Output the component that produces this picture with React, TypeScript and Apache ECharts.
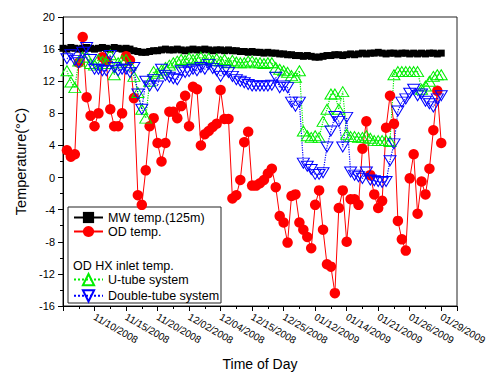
import React, { useEffect, useRef } from "react";
import * as echarts from "echarts";

const FONT = "'Liberation Sans', Arial, sans-serif";

// x tick labels at sample index 0, 8, 16, ... 96
const xTickLabels = [
  "",
  "11/10/2008",
  "11/15/2008",
  "11/20/2008",
  "12/02/2008",
  "12/04/2008",
  "12/15/2008",
  "12/25/2008",
  "01/12/2009",
  "01/14/2009",
  "01/21/2009",
  "01/26/2009",
  "01/29/2009",
];

// MW temp.(125m), samples 0..97
const mwTemp = [
  16.1, 16.0, 16.2, 16.1, 16.0, 16.1, 16.2, 16.1, 16.0, 16.1, 16.2, 16.1, 16.0, 16.2, 16.1, 16.0, 16.1, 16.0,
  15.8, 15.7, 15.6, 15.6, 15.7, 15.8, 15.8, 15.9, 16.0, 15.9, 15.9, 16.0, 15.9, 15.8, 15.9, 16.0, 15.9, 15.9,
  16.0, 15.9, 15.8, 15.9, 15.9, 15.8, 15.9, 15.8, 15.8, 15.7,
  15.7, 15.6, 15.7, 15.6, 15.6, 15.5, 15.6, 15.5, 15.5, 15.4, 15.4, 15.3, 15.3,
  15.2, 15.2, 15.1, 15.2, 15.1, 15.0, 15.0, 15.1, 15.2, 15.2, 15.3, 15.3, 15.2, 15.3, 15.4, 15.3,
  15.4, 15.5, 15.4, 15.5, 15.5, 15.6, 15.5, 15.4, 15.5, 15.5, 15.4, 15.5, 15.5, 15.4, 15.5, 15.4, 15.5, 15.4,
  15.5, 15.5, 15.4, 15.5,
];

// OD temp., samples 1..96
const odTemp = [
  3.4, 2.6, 2.9, 14.3, 17.5, 10.0, 7.7, 6.4, 8.0, 15.0,
  14.5, 8.5, 6.4, 6.4, 8.0, 15.1, 14.6, 9.9, -2.2, -3.4,
  0.9, 6.4, 7.4, 4.3, 2.0, 4.3, 8.2, 8.2, 7.4, 8.9,
  10.2, 6.4, 11.3, 11.0, 4.0, 5.4, 5.8, 6.3, 6.7, 10.9,
  7.3, 7.3, -2.6, -2.2, -0.3, 4.4, 5.7, -1.0, -1.0, -0.7,
  -0.3, 0.5, 1.1, -1.2, -4.8, -5.6, -8.1, -2.3, -2.1, -5.6,
  -6.5, -7.4, -8.8, -3.4, -1.6, -6.5, -10.8, -11.1, -14.4, -3.8,
  -1.6, -8.0, -2.7, -2.7, -3.4, 3.6, 7.0, 0.3, -2.1, -3.8,
  -2.9, 6.2, 10.2, 6.7, -5.4, -7.7, -9.1, -0.1, 2.9, -4.5,
  -0.5, -2.1, 1.1, 5.9, 10.8, 4.3,
];

// OD HX inlet temp. - U-tube system, samples 1..96
const uTube = [
  13.3, 11.9, 11.2, 14.5, 15.0, 15.0, 14.2, 14.0, 14.7, 14.5,
  14.2, 15.3, 12.8, 14.3, 14.6, 14.7, 14.0, 12.6, 10.6, 8.5,
  7.4, 12.0, 13.2, 13.0, 13.4, 13.7, 14.0, 14.3, 14.5, 14.7,
  14.6, 14.9, 14.7, 14.8, 15.0, 14.7, 14.9, 14.6, 14.8, 14.5,
  14.7, 14.3, 14.6, 14.4, 14.3, 14.3, 14.5, 14.5, 14.3, 14.3,
  14.2, 14.3, 14.3, 13.7, 13.5, 13.3, 13.1, 12.7, 12.5, 13.3,
  5.8, 5.2, 5.0, 5.2, 5.0, 7.0, 8.5, 10.4, 10.4, 8.5,
  10.7, 5.4, 5.1, 5.1, 5.0, 5.0, 5.2, 4.9, 4.6, 4.6,
  4.6, 4.6, 4.5, 12.8, 13.2, 13.2, 13.2, 13.2, 13.2, 13.2,
  11.0, 11.4, 12.0, 12.6, 12.8, 12.8,
];

// OD HX inlet temp. - Double-tube system, samples 1..96
const doubleTube = [
  14.8, 15.3, 14.6, 14.3, 15.6, 16.2, 14.7, 13.5, 13.5, 13.3,
  13.3, 15.2, 13.7, 13.3, 13.5, 13.5, 13.1, 13.7, 10.4, 8.5,
  12.0, 11.4, 12.2, 11.4, 13.5, 12.7, 12.5, 12.3, 12.2, 13.3,
  13.1, 13.2, 13.5, 13.3, 13.7, 13.5, 14.1, 13.6, 13.3, 12.6,
  13.3, 13.1, 12.6, 12.2, 12.0, 11.8, 11.6, 11.4, 11.4, 11.4,
  11.4, 11.4, 11.5, 12.5, 11.2, 11.4, 11.2, 9.4, 8.9, 9.4,
  1.8, 1.4, 1.0, 0.4, 0.4, 0.6, 3.8, 5.8, 7.6, 7.0,
  3.8, 7.5, 0.7, 0.3, 0.1, -0.1, 0.7, -0.3, -0.4, -0.5,
  -0.6, -0.5, 2.1, 4.2, 8.3, 9.4, 9.8, 10.5, 11.0, 10.2,
  10.4, 9.5, 9.2, 8.8, 9.8, 10.2,
];

const toPoints = (arr: number[], start: number) => arr.map((v, k) => [k + start, v]);

const DOWN_TRI = "path://M0,0 L12,0 L6,10 Z";

export default function App() {
  const ref = useRef<HTMLDivElement>(null);

  useEffect(() => {
    if (!ref.current) return;
    const chart = echarts.init(ref.current, undefined, { renderer: "svg" });
    const textStyle = { fontFamily: FONT, color: "#000" };
    chart.setOption({
      animation: false,
      backgroundColor: "#fff",
      textStyle,
      grid: {
        left: 63,
        top: 17,
        right: 34,
        bottom: 67,
        show: true,
        borderColor: "#222",
        borderWidth: 1,
        backgroundColor: "transparent",
      },
      xAxis: {
        type: "value",
        min: 0,
        max: 100,
        interval: 8,
        name: "Time of Day",
        nameLocation: "middle",
        nameGap: 51,
        nameTextStyle: { fontSize: 14, fontFamily: FONT, color: "#000" },
        axisLine: { show: true, onZero: false, lineStyle: { color: "#000", width: 1 } },
        axisTick: { show: true, length: 5, lineStyle: { color: "#000" } },
        minorTick: { show: true, splitNumber: 2, length: 3, lineStyle: { color: "#000" } },
        splitLine: { show: false },
        axisLabel: {
          rotate: -30,
          margin: 10,
          fontSize: 10,
          fontFamily: FONT,
          color: "#000",
          formatter: (v: number) => {
            const k = v / 8;
            return Number.isInteger(k) && k < xTickLabels.length ? xTickLabels[k] : "";
          },
        },
      },
      yAxis: {
        type: "value",
        min: -16,
        max: 20,
        interval: 4,
        name: "Temperature(\u00B0C)",
        nameLocation: "middle",
        nameGap: 33,
        nameTextStyle: { fontSize: 14.5, fontFamily: FONT, color: "#000" },
        axisLine: { show: true, onZero: false, lineStyle: { color: "#000", width: 1 } },
        axisTick: { show: true, length: 5, lineStyle: { color: "#000" } },
        minorTick: { show: true, splitNumber: 2, length: 3, lineStyle: { color: "#000" } },
        splitLine: { show: false },
        axisLabel: { fontSize: 11, margin: 8, fontFamily: FONT, color: "#000" },
      },
      legend: [
        {
          data: ["MW temp.(125m)", "OD temp."],
          orient: "vertical",
          left: 73,
          top: 211,
          padding: 0,
          itemWidth: 29,
          itemHeight: 14,
          itemGap: 1,
          z: 6,
          textStyle: { fontSize: 12.5, fontFamily: FONT, color: "#000" },
        },
        {
          data: ["U-tube system", "Double-tube system"],
          orient: "vertical",
          left: 73,
          top: 273,
          padding: 0,
          itemWidth: 29,
          itemHeight: 14,
          itemGap: 3,
          z: 6,
          textStyle: { fontSize: 12.5, fontFamily: FONT, color: "#000" },
        },
      ],
      graphic: [
        {
          type: "rect",
          z: 3,
          shape: { x: 68, y: 207, width: 153, height: 96 },
          style: { fill: "#fff", stroke: "#222", lineWidth: 1 },
        },
        {
          type: "text",
          z: 6,
          x: 73,
          y: 266,
          style: {
            text: "OD HX inlet temp.",
            fontSize: 12.5,
            fontFamily: FONT,
            fill: "#000",
            verticalAlign: "middle",
          },
        },
      ],
      series: [
        {
          name: "MW temp.(125m)",
          type: "line",
          data: toPoints(mwTemp, 0),
          symbol: "rect",
          symbolSize: 7,
          itemStyle: { color: "#000" },
          lineStyle: { color: "#000", width: 1 },
        },
        {
          name: "OD temp.",
          type: "line",
          data: toPoints(odTemp, 1),
          symbol: "circle",
          symbolSize: 10.5,
          itemStyle: { color: "#ff0000" },
          lineStyle: { color: "#ff0000", width: 1 },
        },
        {
          name: "U-tube system",
          type: "line",
          data: toPoints(uTube, 1),
          symbol: "triangle",
          symbolSize: [12, 10],
          itemStyle: { color: "rgba(0,0,0,0)", borderColor: "#00ee00", borderWidth: 1 },
          lineStyle: { color: "#00ee00", width: 1.2, type: "dotted" },
        },
        {
          name: "Double-tube system",
          type: "line",
          data: toPoints(doubleTube, 1),
          symbol: DOWN_TRI,
          symbolSize: [12, 10],
          itemStyle: { color: "rgba(0,0,0,0)", borderColor: "#0000ff", borderWidth: 1 },
          lineStyle: { color: "#0000ff", width: 1.2, type: "dotted" },
        },
      ],
    });
    return () => chart.dispose();
  }, []);

  return (
    <div
      ref={ref}
      style={{ position: "fixed", left: 0, top: 0, width: 491, height: 376, background: "#fff" }}
    />
  );
}
